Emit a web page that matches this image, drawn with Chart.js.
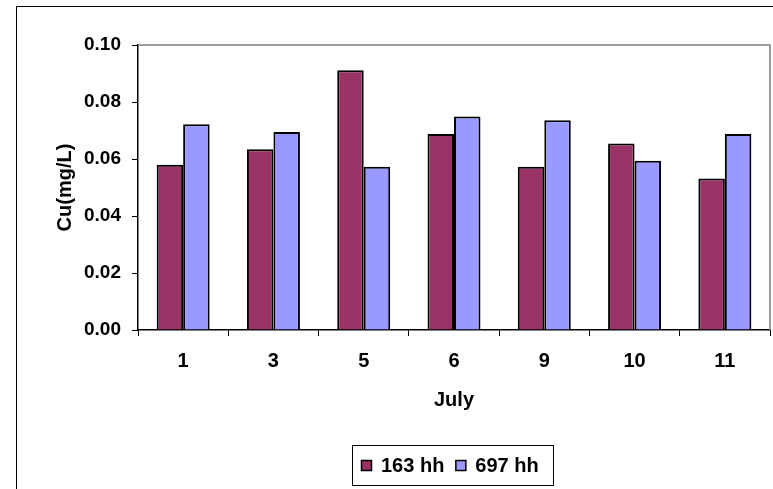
<!DOCTYPE html>
<html>
<head>
<meta charset="utf-8">
<script src="https://cdn.jsdelivr.net/npm/chart.js@4.4.1/dist/chart.umd.min.js"></script>
<style>
  html, body { margin: 0; padding: 0; background: #fff; }
  #wrap { position: relative; width: 773px; height: 489px; }
</style>
</head>
<body>
<div id="wrap"><canvas id="cuChart" width="773" height="489"></canvas></div>
<script>
// July sampling days
const days = ["1", "3", "5", "6", "9", "10", "11"];
// Cu concentration (mg/L)
const cu163 = [0.058, 0.0634, 0.0911, 0.0688, 0.0573, 0.0654, 0.0532];
const cu697 = [0.0722, 0.0695, 0.0573, 0.0749, 0.0736, 0.0594, 0.0688];
const seriesNames = ["163 hh", "697 hh"];
const yTicks = [0, 0.02, 0.04, 0.06, 0.08, 0.10];

const FONT = "'Liberation Sans', Arial, sans-serif";

// frame around whole chart, plot border, and boxed legend
const framePlugin = {
    id: "frame",
    beforeDraw(chart) {
        const ctx = chart.ctx;
        ctx.save();
        ctx.fillStyle = "#fff";
        ctx.fillRect(0, 0, chart.width, chart.height);
        ctx.strokeStyle = "#000";
        ctx.lineWidth = 1;
        ctx.strokeRect(16.5, 6.5, 900, 700);
        ctx.restore();
    },
    afterDraw(chart) {
        const ctx = chart.ctx;
        const a = chart.chartArea;
        ctx.save();
        // gray top/right border of plot area
        ctx.strokeStyle = "#808080";
        ctx.lineWidth = 1.5;
        ctx.beginPath();
        ctx.moveTo(a.left, a.top);
        ctx.lineTo(a.right, a.top);
        ctx.lineTo(a.right, a.bottom);
        ctx.stroke();

        // legend
        ctx.strokeStyle = "#000";
        ctx.lineWidth = 1;
        ctx.strokeRect(352.5, 445.5, 201, 40);
        ctx.font = "bold 20px " + FONT;
        ctx.textBaseline = "middle";
        let x = 361;
        chart.data.datasets.forEach(ds => {
            ctx.fillStyle = ds.backgroundColor;
            ctx.fillRect(x, 460.5, 10, 10);
            ctx.lineWidth = 1.5;
            ctx.strokeRect(x + 0.5, 460.5, 10, 10);
            ctx.fillStyle = "#000";
            ctx.fillText(ds.label, x + 20, 466);
            x += 20 + ctx.measureText(ds.label).width + 11;
        });
        ctx.restore();
    }
};

new Chart(document.getElementById("cuChart").getContext("2d"), {
    type: "bar",
    data: {
        labels: days,
        datasets: [
            {
                label: seriesNames[0],
                data: cu163,
                backgroundColor: "#993366",
                borderColor: "#000",
                borderWidth: 2,
                categoryPercentage: 0.587,
                barPercentage: 1.0
            },
            {
                label: seriesNames[1],
                data: cu697,
                backgroundColor: "#9999FF",
                borderColor: "#000",
                borderWidth: 2,
                categoryPercentage: 0.587,
                barPercentage: 1.0
            }
        ]
    },
    options: {
        responsive: false,
        animation: false,
        layout: { padding: { left: 0, top: 45, right: 3, bottom: 0 } },
        plugins: {
            legend: { display: false },
            tooltip: { enabled: false }
        },
        scales: {
            x: {
                grid: { drawOnChartArea: false, drawTicks: true, tickLength: 6, color: "#000", offset: true },
                border: { color: "#000", width: 1.5 },
                ticks: { color: "#000", padding: 13, font: { family: FONT, size: 20, weight: "bold" } },
                title: {
                    display: true,
                    text: "July",
                    color: "#000",
                    font: { family: FONT, size: 20, weight: "bold" },
                    padding: { top: 0, bottom: 77 }
                },
                afterFit(scale) { scale.height = 159; }
            },
            y: {
                min: 0,
                max: 0.1,
                afterBuildTicks(scale) { scale.ticks = yTicks.map(v => ({ value: v })); },
                grid: { drawOnChartArea: false, drawTicks: true, tickLength: 6, color: "#000" },
                border: { color: "#000", width: 1.5 },
                ticks: {
                    color: "#000",
                    padding: 11,
                    font: { family: FONT, size: 19, weight: "bold" },
                    callback: v => Number(v).toFixed(2)
                },
                title: {
                    display: true,
                    text: "Cu(mg/L)",
                    color: "#000",
                    font: { family: FONT, size: 20, weight: "bold" },
                    padding: { top: 53, bottom: 0 }
                },
                afterFit(scale) { scale.width = 138; }
            }
        }
    },
    plugins: [framePlugin]
});
</script>
</body>
</html>
